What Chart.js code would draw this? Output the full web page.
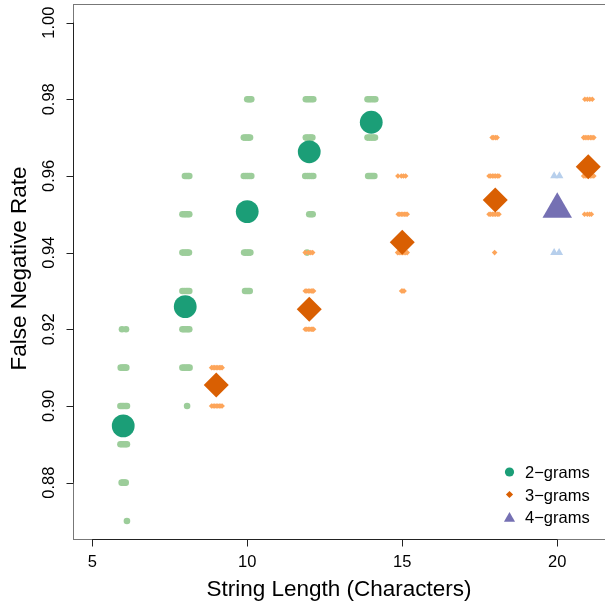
<!DOCTYPE html>
<html>
<head>
<meta charset="utf-8">
<script src="https://cdn.jsdelivr.net/npm/chart.js@4"></script>
<style>
  body { margin: 0; background: #fff; }
  canvas { display: block; }
</style>
</head>
<body>
<canvas id="fnr" width="605" height="606"></canvas>
<script>
// mean false negative rate per string length
const bigramLengths = [6, 8, 10, 12, 14];
const bigramMeans = [0.8948, 0.9259, 0.9507, 0.9663, 0.9740];
const trigramLengths = [9, 12, 15, 18, 21];
const trigramMeans = [0.9055, 0.9252, 0.9427, 0.9537, 0.9624];
const fourgramLengths = [20];
const fourgramMeans = [0.9513];

// individual runs (jittered along x like the strip chart)
const bigramRuns = [
  [5.96,0.92],[6.09,0.92],
  [5.92,0.91],[5.97,0.91],[6.02,0.91],[6.06,0.91],[6.10,0.91],
  [5.91,0.90],[5.96,0.90],[6.01,0.90],[6.07,0.90],[6.12,0.90],
  [5.91,0.89],[5.96,0.89],[6.02,0.89],[6.07,0.89],[6.12,0.89],
  [5.95,0.88],[5.99,0.88],[6.04,0.88],[6.08,0.88],
  [6.12,0.87],
  [7.99,0.96],[8.04,0.96],[8.09,0.96],[8.13,0.96],
  [7.91,0.95],[7.97,0.95],[8.02,0.95],[8.08,0.95],[8.13,0.95],
  [7.91,0.94],[7.96,0.94],[8.02,0.94],[8.07,0.94],[8.12,0.94],
  [7.91,0.93],[7.97,0.93],[8.03,0.93],[8.08,0.93],[8.13,0.93],
  [7.91,0.92],[7.96,0.92],[8.02,0.92],[8.08,0.92],[8.13,0.92],
  [7.91,0.91],[7.97,0.91],[8.03,0.91],[8.09,0.91],[8.14,0.91],
  [8.06,0.90],
  [10.00,0.98],[10.05,0.98],[10.09,0.98],[10.13,0.98],
  [9.89,0.97],[9.94,0.97],[9.99,0.97],[10.04,0.97],[10.09,0.97],
  [9.89,0.96],[9.95,0.96],[10.01,0.96],[10.07,0.96],[10.13,0.96],
  [9.90,0.95],[9.95,0.95],[10.00,0.95],[10.05,0.95],[10.10,0.95],
  [9.90,0.94],[9.95,0.94],[10.00,0.94],[10.05,0.94],[10.10,0.94],
  [9.93,0.93],[9.98,0.93],[10.03,0.93],[10.08,0.93],
  [11.89,0.98],[11.95,0.98],[12.01,0.98],[12.07,0.98],[12.13,0.98],
  [11.89,0.97],[11.94,0.97],[12.00,0.97],[12.05,0.97],[12.10,0.97],
  [11.87,0.96],[11.94,0.96],[12.00,0.96],[12.07,0.96],[12.13,0.96],
  [12.00,0.95],[12.06,0.95],[12.11,0.95],
  [11.93,0.94],
  [13.88,0.98],[13.94,0.98],[14.00,0.98],[14.07,0.98],[14.13,0.98],
  [13.88,0.97],[13.94,0.97],[14.00,0.97],[14.06,0.97],[14.12,0.97],
  [13.90,0.96],[13.95,0.96],[14.00,0.96],[14.05,0.96],[14.10,0.96]
];
const trigramRuns = [
  [8.85,0.91],[8.90,0.91],[8.95,0.91],[9.00,0.91],[9.05,0.91],[9.10,0.91],[9.15,0.91],[9.19,0.91],
  [8.85,0.90],[8.90,0.90],[8.95,0.90],[9.00,0.90],[9.05,0.90],[9.10,0.90],[9.15,0.90],[9.19,0.90],
  [11.87,0.94],[11.97,0.94],[12.05,0.94],[12.11,0.94],
  [11.87,0.93],[11.92,0.93],[11.97,0.93],[12.02,0.93],[12.07,0.93],[12.11,0.93],[12.14,0.93],
  [11.87,0.92],[11.92,0.92],[11.97,0.92],[12.02,0.92],[12.07,0.92],[12.11,0.92],[12.14,0.92],
  [14.86,0.96],[14.97,0.96],[15.04,0.96],[15.11,0.96],
  [14.87,0.95],[14.92,0.95],[14.97,0.95],[15.02,0.95],[15.07,0.95],[15.12,0.95],[15.16,0.95],
  [14.85,0.94],[14.90,0.94],[14.96,0.94],[15.01,0.94],[15.06,0.94],[15.11,0.94],[15.16,0.94],
  [14.98,0.93],[15.02,0.93],[15.06,0.93],
  [17.90,0.97],[17.95,0.97],[18.01,0.97],[18.06,0.97],
  [17.80,0.96],[17.85,0.96],[17.91,0.96],[17.96,0.96],[18.01,0.96],[18.07,0.96],[18.12,0.96],
  [17.80,0.95],[17.85,0.95],[17.91,0.95],[17.96,0.95],[18.01,0.95],[18.07,0.95],[18.12,0.95],
  [17.98,0.94],
  [20.89,0.98],[20.97,0.98],[21.05,0.98],[21.13,0.98],
  [20.85,0.97],[20.90,0.97],[20.96,0.97],[21.01,0.97],[21.07,0.97],[21.12,0.97],[21.18,0.97],
  [20.85,0.96],[20.90,0.96],[20.96,0.96],[21.01,0.96],[21.07,0.96],[21.12,0.96],[21.18,0.96],
  [20.88,0.95],[20.97,0.95],[21.04,0.95],[21.10,0.95]
];
const fourgramRuns = [[19.90,0.96],[20.07,0.96],[19.90,0.94],[20.06,0.94]];

const xTicks = [5, 10, 15, 20];
const yTicks = [0.88, 0.90, 0.92, 0.94, 0.96, 0.98, 1.00];

const FONT = '"Liberation Sans", Arial, sans-serif';

function pts(xs, ys) {
  return xs.map((x, i) => ({ x: x, y: ys[i] }));
}
function runPts(runs) {
  return runs.map(r => ({ x: r[0], y: r[1] }));
}

// axes, box, titles and legend drawn R-style
const rStyle = {
  id: 'rStyle',
  afterDraw(chart) {
    const ctx = chart.ctx;
    const a = chart.chartArea;
    const xs = chart.scales.x, ys = chart.scales.y;
    ctx.save();
    ctx.strokeStyle = '#777';
    ctx.lineWidth = 1;
    ctx.strokeRect(a.left + 0.5, a.top + 0.5, a.right - a.left, a.bottom - a.top);

    ctx.strokeStyle = '#222';
    ctx.fillStyle = '#000';
    // x axis
    const bx = Math.round(a.bottom) + 0.5;
    ctx.beginPath();
    ctx.moveTo(xs.getPixelForValue(xTicks[0]), bx);
    ctx.lineTo(xs.getPixelForValue(xTicks[xTicks.length - 1]), bx);
    xTicks.forEach(v => {
      const px = Math.round(xs.getPixelForValue(v)) + 0.5;
      ctx.moveTo(px, bx);
      ctx.lineTo(px, bx + 7);
    });
    ctx.stroke();
    ctx.font = '16.5px ' + FONT;
    ctx.textAlign = 'center';
    ctx.textBaseline = 'alphabetic';
    xTicks.forEach(v => ctx.fillText(String(v), xs.getPixelForValue(v), 567));

    // y axis
    const lx = Math.round(a.left) + 0.5;
    ctx.beginPath();
    ctx.moveTo(lx, ys.getPixelForValue(yTicks[0]));
    ctx.lineTo(lx, ys.getPixelForValue(yTicks[yTicks.length - 1]));
    yTicks.forEach(v => {
      const py = Math.round(ys.getPixelForValue(v)) + 0.5;
      ctx.moveTo(lx, py);
      ctx.lineTo(lx - 7, py);
    });
    ctx.stroke();
    yTicks.forEach(v => {
      ctx.save();
      ctx.translate(54, ys.getPixelForValue(v));
      ctx.rotate(-Math.PI / 2);
      ctx.fillText(v.toFixed(2), 0, 0);
      ctx.restore();
    });

    // titles
    ctx.font = '22.5px ' + FONT;
    ctx.fillText('String Length (Characters)', (a.left + a.right) / 2, 596);
    ctx.save();
    ctx.translate(26, (a.top + a.bottom) / 2 - 3);
    ctx.rotate(-Math.PI / 2);
    ctx.fillText('False Negative Rate', 0, 0);
    ctx.restore();

    // legend
    const items = [
      { ds: chart.data.datasets[0], style: 'circle', r: 4.6, y: 472 },
      { ds: chart.data.datasets[1], style: 'rectRot', r: 3.6, y: 494.5 },
      { ds: chart.data.datasets[2], style: 'triangle', r: 6.4, y: 517 }
    ];
    ctx.font = '16.5px ' + FONT;
    ctx.textAlign = 'left';
    items.forEach(it => {
      ctx.fillStyle = it.ds.backgroundColor;
      const dy = it.style === 'triangle' ? 1.5 : 0;
      Chart.helpers.drawPoint(ctx, { pointStyle: it.style, radius: it.r, rotation: 0, borderWidth: 0 }, 509.5, it.y + dy);
      ctx.fillStyle = '#000';
      ctx.fillText(it.ds.label, 525, it.y + 6);
    });
    ctx.restore();
  }
};

window.onload = function() {
  const ctx = document.querySelector('#fnr');

  const chartData = {
    datasets: [
      { label: '2\u2212grams', data: pts(bigramLengths, bigramMeans), backgroundColor: '#1B9E77',
        pointStyle: 'circle', pointRadius: 11.4, borderWidth: 0 },
      { label: '3\u2212grams', data: pts(trigramLengths, trigramMeans), backgroundColor: '#D95F02',
        pointStyle: 'rectRot', pointRadius: 12.5, borderWidth: 0 },
      { label: '4\u2212grams', data: pts(fourgramLengths, fourgramMeans), backgroundColor: '#7570B3',
        pointStyle: 'triangle', pointRadius: 17, borderWidth: 0 },
      { label: '4-gram runs', data: runPts(fourgramRuns), backgroundColor: '#B7CFEC',
        pointStyle: 'triangle', pointRadius: 4.6, borderWidth: 0 },
      { label: '3-gram runs', data: runPts(trigramRuns), backgroundColor: '#FDA55A',
        pointStyle: 'rectRot', pointRadius: 2.8, borderWidth: 0 },
      { label: '2-gram runs', data: runPts(bigramRuns), backgroundColor: '#9CCD9A',
        pointStyle: 'circle', pointRadius: 3.3, borderWidth: 0 }
    ]
  };

  new Chart(ctx, {
    type: 'scatter',
    data: chartData,
    options: {
      responsive: false,
      animation: false,
      layout: { autoPadding: false, padding: { top: 4, left: 0, right: 0, bottom: 0 } },
      plugins: { legend: { display: false }, tooltip: { enabled: false } },
      scales: {
        x: {
          type: 'linear', min: 4.38, max: 21.54,
          grid: { display: false }, border: { display: false },
          ticks: { display: false },
          afterFit: s => { s.height = 67; }
        },
        y: {
          type: 'linear', min: 0.8653, max: 1.00485,
          grid: { display: false }, border: { display: false },
          ticks: { display: false },
          afterFit: s => { s.width = 73; }
        }
      }
    },
    plugins: [rStyle]
  });
} //end window onload
</script>
</body>
</html>
